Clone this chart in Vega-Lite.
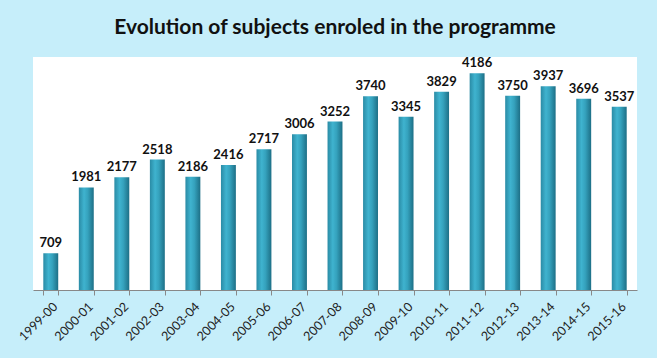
{
  "$schema": "https://vega.github.io/schema/vega-lite/v6.json",
  "autosize": "none",
  "width": 604,
  "height": 233,
  "padding": {"left": 33, "top": 57, "right": 20, "bottom": 68},
  "background": "#c6eefa",
  "title": {
    "text": "Evolution of subjects enroled in the programme",
    "font": "Lato",
    "fontSize": 21,
    "fontWeight": "bold",
    "color": "#111111",
    "anchor": "middle",
    "offset": 19
  },
  "config": {
    "view": {"fill": "#ffffff", "stroke": null}
  },
  "data": {
    "values": [
      {"year": "1999-00", "n": 709},
      {"year": "2000-01", "n": 1981},
      {"year": "2001-02", "n": 2177},
      {"year": "2002-03", "n": 2518},
      {"year": "2003-04", "n": 2186},
      {"year": "2004-05", "n": 2416},
      {"year": "2005-06", "n": 2717},
      {"year": "2006-07", "n": 3006},
      {"year": "2007-08", "n": 3252},
      {"year": "2008-09", "n": 3740},
      {"year": "2009-10", "n": 3345},
      {"year": "2010-11", "n": 3829},
      {"year": "2011-12", "n": 4186},
      {"year": "2012-13", "n": 3750},
      {"year": "2013-14", "n": 3937},
      {"year": "2014-15", "n": 3696},
      {"year": "2015-16", "n": 3537}
    ]
  },
  "encoding": {
    "x": {
      "field": "year",
      "type": "nominal",
      "sort": null,
      "scale": {"paddingInner": 0.58, "paddingOuter": 0.29},
      "axis": {
        "title": null,
        "labelAngle": -45,
        "labelFont": "Lato",
        "labelFontSize": 12.5,
        "labelColor": "#222222",
        "domainColor": "#888888",
        "tickColor": "#888888",
        "tickSize": 5,
        "tickBand": "extent",
        "labelPadding": 5
      }
    },
    "y": {
      "field": "n",
      "type": "quantitative",
      "scale": {"domain": [0, 4500], "nice": false},
      "axis": null
    }
  },
  "layer": [
    {
      "mark": {
        "type": "bar",
        "color": {
          "gradient": "linear",
          "x1": 0, "x2": 1, "y1": 0, "y2": 0,
          "stops": [
            {"offset": 0, "color": "#2a8ba5"},
            {"offset": 0.35, "color": "#3fb3cf"},
            {"offset": 0.6, "color": "#35a2bd"},
            {"offset": 1, "color": "#1d6f86"}
          ]
        }
      }
    },
    {
      "mark": {
        "type": "text",
        "dy": -10,
        "font": "Lato",
        "fontSize": 13,
        "fontWeight": "bold",
        "color": "#111111"
      },
      "encoding": {"text": {"field": "n", "type": "quantitative", "format": "d"}}
    }
  ]
}
